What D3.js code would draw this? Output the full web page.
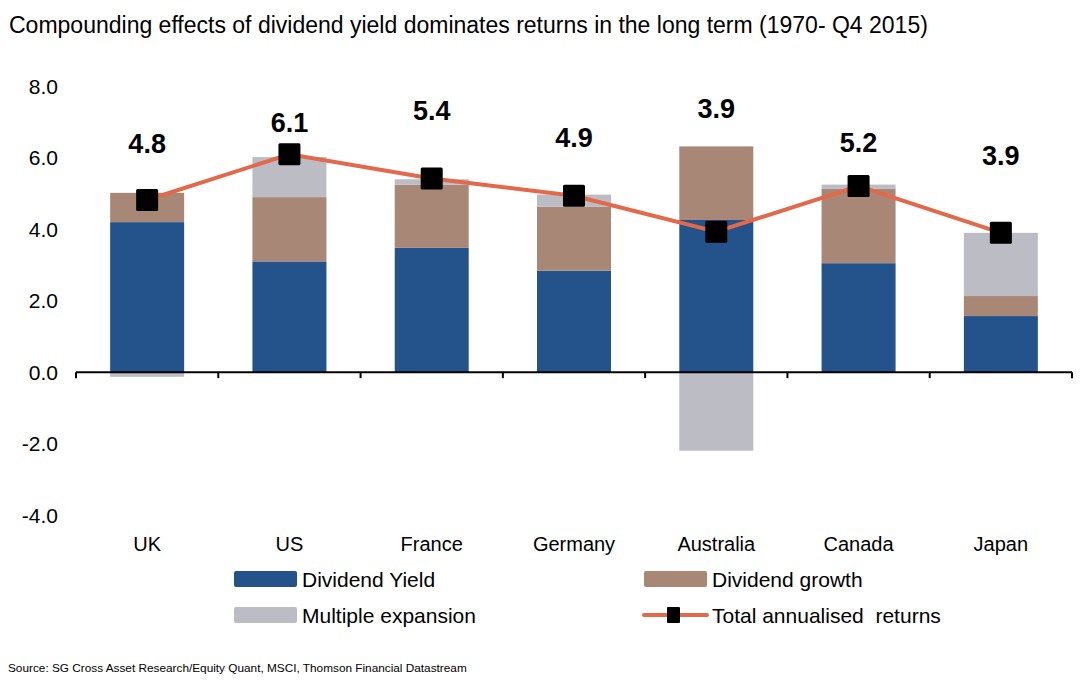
<!DOCTYPE html>
<html>
<head>
<meta charset="utf-8">
<script src="https://cdn.jsdelivr.net/npm/d3@7.9.0/dist/d3.min.js"></script>
<style>
  body { margin: 0; background: #fff; }
  svg { display: block; font-family: "Liberation Sans", Arial, sans-serif; }
</style>
</head>
<body>
<div id="chart"></div>
<script>
// Data
const countries = ['UK', 'US', 'France', 'Germany', 'Australia', 'Canada', 'Japan'];
const dividendYield = [4.2, 3.1, 3.48, 2.84, 4.26, 3.05, 1.57];
const dividendGrowth = [0.82, 1.8, 1.77, 1.79, 2.06, 2.08, 0.56];
const multipleExpansion = [-0.13, 1.12, 0.15, 0.34, -2.2, 0.12, 1.77];
const totalReturns = [4.82, 6.1, 5.42, 4.94, 3.93, 5.21, 3.9];
// level (in chart units) where each total label sits
const labelLevel = [6.41, 7.0, 7.34, 6.58, 7.39, 6.44, 6.08];
const yTicks = [-4, -2, 0, 2, 4, 6, 8];

const series = [
  { key: 'Dividend Yield', values: dividendYield, color: '#23538a' },
  { key: 'Dividend growth', values: dividendGrowth, color: '#a88777' },
  { key: 'Multiple expansion', values: multipleExpansion, color: '#bcbcc4' },
];
const lineColor = '#e2694a';

const width = 1092, height = 680;

const svg = d3.select('#chart').append('svg')
  .attr('width', width)
  .attr('height', height);

const xScale = d3.scaleBand()
  .domain(countries)
  .range([76, 1072])
  .paddingInner(0.48)
  .paddingOuter(0.24);

const yScale = d3.scaleLinear()
  .domain([-4, 8])
  .range([515, 86.4]);

// Title
svg.append('text')
  .attr('x', 9)
  .attr('y', 33)
  .attr('font-size', 23)
  .attr('fill', '#000')
  .text('Compounding effects of dividend yield dominates returns in the long term (1970- Q4 2015)');

// Y tick labels (no axis line)
svg.append('g')
  .selectAll('text')
  .data(yTicks)
  .join('text')
  .attr('x', 58)
  .attr('y', (d) => yScale(d))
  .attr('dy', '0.36em')
  .attr('text-anchor', 'end')
  .attr('font-size', 21)
  .text((d) => d.toFixed(1));

// Stacked bars: positives stack upward, negatives downward
const bars = svg.append('g').attr('class', 'bars');
countries.forEach((c, i) => {
  let pos = 0, neg = 0;
  series.forEach((s) => {
    const v = s.values[i];
    let y0, y1;
    if (v >= 0) { y0 = pos; y1 = pos + v; pos = y1; }
    else { y0 = neg + v; y1 = neg; neg = y0; }
    bars.append('rect')
      .attr('x', xScale(c))
      .attr('width', xScale.bandwidth())
      .attr('y', yScale(y1))
      .attr('height', yScale(y0) - yScale(y1))
      .attr('fill', s.color);
  });
});

// X axis at zero with ticks between categories
const boundaries = d3.range(countries.length + 1).map((i) => 76 + i * (996 / countries.length));
const axis = svg.append('g').attr('class', 'x-axis');
axis.append('line')
  .attr('x1', 76).attr('x2', 1072)
  .attr('y1', yScale(0)).attr('y2', yScale(0))
  .attr('stroke', '#000').attr('stroke-width', 2);
axis.selectAll('line.tick')
  .data(boundaries)
  .join('line')
  .attr('class', 'tick')
  .attr('x1', (d) => d).attr('x2', (d) => d)
  .attr('y1', yScale(0)).attr('y2', yScale(0) + 6)
  .attr('stroke', '#000').attr('stroke-width', 2);

// Category labels
svg.append('g')
  .selectAll('text')
  .data(countries)
  .join('text')
  .attr('x', (d) => xScale(d) + xScale.bandwidth() / 2)
  .attr('y', 551)
  .attr('text-anchor', 'middle')
  .attr('font-size', 20)
  .text((d) => d);

// Total returns line
const cx = (i) => xScale(countries[i]) + xScale.bandwidth() / 2;
const line = d3.line()
  .x((d, i) => cx(i))
  .y((d) => yScale(d));

svg.append('path')
  .datum(totalReturns)
  .attr('d', line)
  .attr('fill', 'none')
  .attr('stroke', lineColor)
  .attr('stroke-width', 4);

svg.append('g')
  .selectAll('rect')
  .data(totalReturns)
  .join('rect')
  .attr('x', (d, i) => cx(i) - 11)
  .attr('y', (d) => yScale(d) - 11)
  .attr('width', 22)
  .attr('height', 22)
  .attr('rx', 1.5)
  .attr('fill', '#000');

// Total value labels
svg.append('g')
  .selectAll('text')
  .data(totalReturns)
  .join('text')
  .attr('x', (d, i) => cx(i))
  .attr('y', (d, i) => yScale(labelLevel[i]))
  .attr('dy', '0.36em')
  .attr('text-anchor', 'middle')
  .attr('font-size', 27)
  .attr('font-weight', 'bold')
  .text((d) => d.toFixed(1));

// Legend
const legendItems = [
  { label: 'Dividend Yield', color: series[0].color, type: 'rect', x: 234, y: 579 },
  { label: 'Dividend growth', color: series[1].color, type: 'rect', x: 644, y: 579 },
  { label: 'Multiple expansion', color: series[2].color, type: 'rect', x: 234, y: 615 },
  { label: 'Total annualised  returns', color: lineColor, type: 'line', x: 644, y: 615 },
];
const legend = svg.append('g').attr('class', 'legend');
legendItems.forEach((d) => {
  const g = legend.append('g').attr('transform', `translate(${d.x},${d.y})`);
  if (d.type === 'rect') {
    g.append('rect')
      .attr('x', 0).attr('y', -8)
      .attr('width', 63).attr('height', 16)
      .attr('rx', 2)
      .attr('fill', d.color);
  } else {
    g.append('line')
      .attr('x1', 0).attr('x2', 63)
      .attr('y1', 0).attr('y2', 0)
      .attr('stroke', d.color).attr('stroke-width', 4)
      .attr('stroke-linecap', 'round');
    g.append('rect')
      .attr('x', 29 - 6).attr('y', -8)
      .attr('width', 13).attr('height', 16)
      .attr('rx', 1)
      .attr('fill', '#000');
  }
  g.append('text')
    .attr('x', 68)
    .attr('y', 0)
    .attr('dy', '0.36em')
    .attr('font-size', 21)
    .style('white-space', 'pre')
    .text(d.label);
});

// Source note
svg.append('text')
  .attr('x', 8)
  .attr('y', 672)
  .attr('font-size', 11.8)
  .attr('fill', '#000')
  .text('Source: SG Cross Asset Research/Equity Quant, MSCI, Thomson Financial Datastream');
</script>
</body>
</html>
